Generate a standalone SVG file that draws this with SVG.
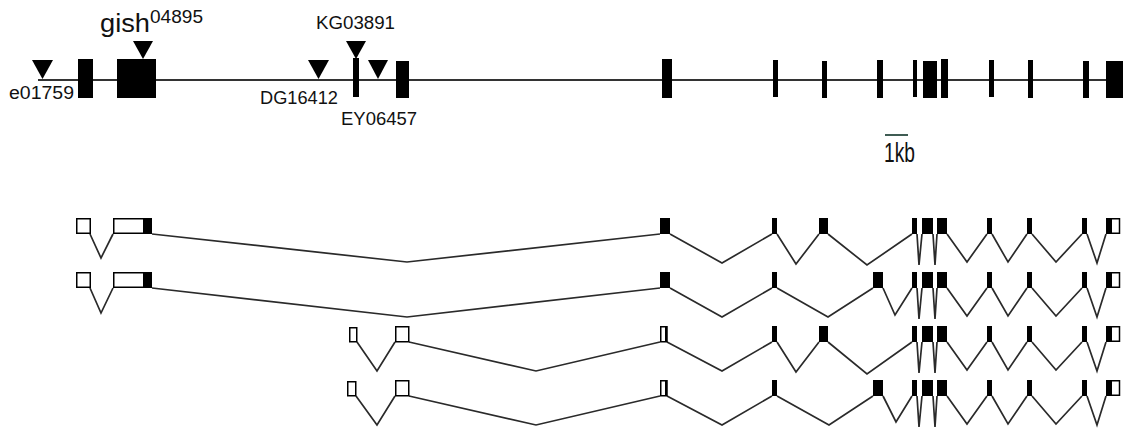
<svg xmlns="http://www.w3.org/2000/svg" xmlns:xlink="http://www.w3.org/1999/xlink" width="1124" height="430" viewBox="0 0 1124 430">
<style>
.ex{fill:#000}
.ux{fill:#fff;stroke:#000;stroke-width:1.5}
.in{fill:none;stroke:#2a2a2a;stroke-width:1.7;stroke-linejoin:miter}
.ins{fill:#000}
.lb{font-family:"Liberation Sans",Arial,sans-serif;fill:#111}
</style>
<defs>
<g id="cluster">
<polyline class="in" points="917,16 919,47 922,16"/>
<polyline class="in" points="933,16 935,47 937,16"/>
<polyline class="in" points="947,16 967,44 987,16"/>
<polyline class="in" points="992,16 1008,44 1027,16"/>
<polyline class="in" points="1032,16 1056,44 1082,16"/>
<polyline class="in" points="1087,16 1097,45 1106,16"/>
<rect class="ex" x="912" y="0" width="5" height="16"/>
<rect class="ex" x="922" y="0" width="11" height="16"/>
<rect class="ex" x="937" y="0" width="10" height="16"/>
<rect class="ex" x="987" y="0" width="5" height="16"/>
<rect class="ex" x="1027" y="0" width="5" height="16"/>
<rect class="ex" x="1082" y="0" width="5" height="16"/>
<rect class="ux" x="1110" y="0.75" width="9.5" height="14.5"/>
<rect class="ex" x="1106" y="0" width="6" height="16"/>
</g>
</defs>

<g id="gene-track">
<line x1="38" y1="80" x2="1122" y2="80" stroke="#333" stroke-width="2"/>
<rect class="ex" x="78" y="59" width="15" height="39"/>
<rect class="ex" x="117" y="59" width="39" height="39"/>
<rect class="ex" x="353" y="58" width="6" height="39"/>
<rect class="ex" x="396" y="61" width="13" height="37"/>
<rect class="ex" x="662" y="59" width="10" height="39"/>
<rect class="ex" x="773" y="60" width="5" height="37"/>
<rect class="ex" x="822" y="61" width="5" height="37"/>
<rect class="ex" x="877" y="60" width="6" height="38"/>
<rect class="ex" x="913" y="60" width="4" height="37"/>
<rect class="ex" x="923" y="61" width="14" height="37"/>
<rect class="ex" x="941" y="59" width="7" height="39"/>
<rect class="ex" x="989" y="60" width="5" height="37"/>
<rect class="ex" x="1028" y="60" width="5" height="38"/>
<rect class="ex" x="1083" y="61" width="6" height="37"/>
<rect class="ex" x="1106" y="61" width="17" height="37"/>
</g>

<g id="insertions">
<g id="ins-e01759"><polygon class="ins" points="32,60 53,60 42.5,79"/><text class="lb" x="9" y="99" font-size="18" textLength="65" lengthAdjust="spacingAndGlyphs">e01759</text></g>
<g id="ins-gish"><polygon class="ins" points="133,41 153,41 143,59"/><text class="lb" x="100" y="32" font-size="26" textLength="50" lengthAdjust="spacingAndGlyphs">gish</text><text class="lb" x="150" y="23" font-size="18" textLength="53" lengthAdjust="spacingAndGlyphs">04895</text></g>
<g id="ins-DG16412"><polygon class="ins" points="308,60 329,60 318.5,79"/><text class="lb" x="260" y="104" font-size="18" textLength="78" lengthAdjust="spacingAndGlyphs">DG16412</text></g>
<g id="ins-KG03891"><polygon class="ins" points="346,41 366,41 356,59"/><text class="lb" x="316" y="29" font-size="18" textLength="79" lengthAdjust="spacingAndGlyphs">KG03891</text></g>
<g id="ins-EY06457"><polygon class="ins" points="368,60 388,60 378,79"/><text class="lb" x="341" y="125" font-size="18" textLength="76" lengthAdjust="spacingAndGlyphs">EY06457</text></g>
</g>

<g id="scale-bar">
<line x1="885" y1="135" x2="908" y2="135" stroke="#2a4a40" stroke-width="1.8"/>
<text class="lb" x="884" y="162" font-size="27" textLength="31" lengthAdjust="spacingAndGlyphs">1kb</text>
</g>

<g id="transcript-1">
<polyline class="in" points="90,234 101,258 113,234"/>
<polyline class="in" points="152,234 407,262 660,234"/>
<polyline class="in" points="670,234 722,263 772,234"/>
<polyline class="in" points="777,234 796,264 819,234"/>
<polyline class="in" points="828,234 867,265 912,234"/>
<rect class="ux" x="76.75" y="218.75" width="13.5" height="14.5"/>
<rect class="ux" x="113.75" y="218.75" width="30" height="14.5"/>
<rect class="ex" x="143" y="218" width="9" height="16"/>
<rect class="ex" x="660" y="218" width="10" height="16"/>
<rect class="ex" x="772" y="218" width="5" height="16"/>
<rect class="ex" x="819" y="218" width="9" height="16"/>
<use xlink:href="#cluster" href="#cluster" transform="translate(0,218)"/>
</g>

<g id="transcript-2">
<polyline class="in" points="90,288 101,313 113,288"/>
<polyline class="in" points="152,288 407,317 660,288"/>
<polyline class="in" points="670,288 722,317 772,288"/>
<polyline class="in" points="777,288 828,317 873,288"/>
<polyline class="in" points="883,288 895,315 912,288"/>
<rect class="ux" x="76.75" y="272.75" width="13.5" height="14.5"/>
<rect class="ux" x="113.75" y="272.75" width="30" height="14.5"/>
<rect class="ex" x="143" y="272" width="9" height="16"/>
<rect class="ex" x="660" y="272" width="10" height="16"/>
<rect class="ex" x="772" y="272" width="5" height="16"/>
<rect class="ex" x="873" y="272" width="10" height="16"/>
<use xlink:href="#cluster" href="#cluster" transform="translate(0,272)"/>
</g>

<g id="transcript-3">
<polyline class="in" points="357,342 377,371 395,342"/>
<polyline class="in" points="409,342 536,371 660,342"/>
<polyline class="in" points="667,342 722,371 772,342"/>
<polyline class="in" points="777,342 796,372 819,342"/>
<polyline class="in" points="828,342 867,374 912,342"/>
<rect class="ux" x="349.75" y="327.75" width="7" height="14"/>
<rect class="ux" x="395.75" y="326.75" width="13" height="15"/>
<rect class="ux" x="660.75" y="326.75" width="6" height="15"/>
<rect class="ex" x="665" y="326" width="2.5" height="16"/>
<rect class="ex" x="772" y="326" width="5" height="16"/>
<rect class="ex" x="819" y="326" width="9" height="16"/>
<use xlink:href="#cluster" href="#cluster" transform="translate(0,326)"/>
</g>

<g id="transcript-4">
<polyline class="in" points="356,396 377,425 395,396"/>
<polyline class="in" points="409,396 536,425 660,396"/>
<polyline class="in" points="667,396 722,425 772,396"/>
<polyline class="in" points="777,396 829,425 873,396"/>
<polyline class="in" points="883,396 896,422 912,396"/>
<rect class="ux" x="347.75" y="381.75" width="8" height="14"/>
<rect class="ux" x="395.75" y="380.75" width="13" height="15"/>
<rect class="ux" x="660.75" y="380.75" width="6" height="15"/>
<rect class="ex" x="665" y="380" width="2.5" height="16"/>
<rect class="ex" x="772" y="380" width="5" height="16"/>
<rect class="ex" x="873" y="380" width="10" height="16"/>
<use xlink:href="#cluster" href="#cluster" transform="translate(0,380)"/>
</g>
</svg>
